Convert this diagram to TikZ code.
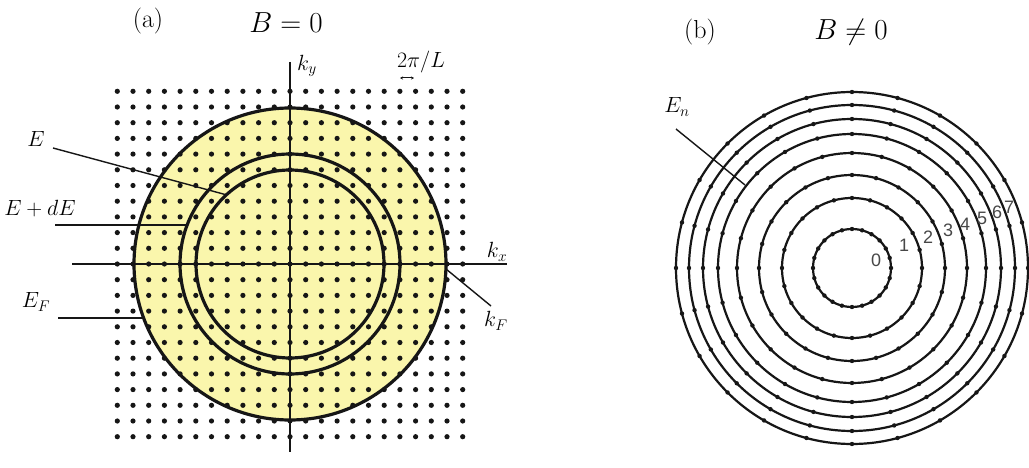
\RequirePackage{fix-cm}
\documentclass[tikz,border=0pt]{standalone}
\usepackage{fontspec}
\newfontfamily\digitfont{Liberation Sans}
\usetikzlibrary{arrows.meta}
\definecolor{fermi}{RGB}{250,246,172}
\definecolor{ink}{RGB}{22,22,22}
\tikzset{
  lbl/.style={font=\fontsize{22}{26}\selectfont, inner sep=0pt},
  klbl/.style={font=\fontsize{22}{26}\selectfont, inner sep=0pt},
  ttl/.style={font=\fontsize{29}{33}\selectfont, inner sep=0pt},
  tag/.style={font=\fontsize{26}{30}\selectfont, inner sep=0pt},
  lvl/.style={font=\digitfont\fontsize{18}{20}\selectfont, text=black!72, inner sep=0pt},
  leader/.style={line width=1.4pt, draw=ink},
  axisline/.style={line width=1.5pt, draw=ink},
  shell/.style={line width=3.2pt, draw=ink},
  ring/.style={line width=2.2pt, draw=ink},
  latdot/.style={fill=ink, draw=none},
}
\begin{document}
\begin{tikzpicture}[x=1pt,y=-1pt]
\useasboundingbox (0,0) rectangle (1029,468);
\fill[white] (0,0) rectangle (1029,468);

% ---------------- panel (a) ----------------
\coordinate (A) at (290,264);
\fill[fermi] (A) circle (156);
\foreach \i in {-11,...,11}
  \foreach \j in {-11,...,11}
    \fill[latdot] ({290+\i*15.7},{264+\j*15.7}) circle (2.6);

\coordinate (kxL) at (72,264);
\coordinate (kxR) at (507,264);
\coordinate (kyT) at (290,62);
\coordinate (kyB) at (290,452);
\draw[axisline] (kxL) -- (kxR);
\draw[axisline] (kyT) -- (kyB);

\draw[shell] (A) circle (156);
\draw[shell] (A) circle (110);
\draw[shell] (A) circle (94);

\node[tag] (pa) at (148,21) {(a)};
\node[ttl] (ba) at (286,23) {$B = 0$};
\node[klbl] (ky) at (307,66) {$k_y$};
\node[klbl] (kx) at (497,252) {$k_x$};
\node[klbl] (kf) at (496,321) {$k_F$};
\node[lbl] (len) at (421,62) {$2\pi/L$};
\coordinate (arL) at (400,78);
\coordinate (arR) at (414,78);
\draw[line width=1pt, ink, {Stealth[length=3pt,width=3pt]}-{Stealth[length=3pt,width=3pt]}] (arL) -- (arR);

\node[lbl] (E) at (36,139) {$E$};
\node[lbl] (EdE) at (40,209) {$E+dE$};
\node[lbl] (EF) at (36,302) {$E_F$};

\coordinate (eS) at (53,148);
\coordinate (eT) at (227,195);
\coordinate (edS) at (55,225);
\coordinate (edT) at (186,225);
\coordinate (efS) at (58,318);
\coordinate (efT) at (145,318);
\coordinate (kfS) at (446,269);
\coordinate (kfT) at (491,306);
\draw[leader] (eS) -- (eT);
\draw[leader] (edS) -- (edT);
\draw[leader] (efS) -- (efT);
\draw[leader] (kfS) -- (kfT);

% ---------------- panel (b) ----------------
\coordinate (Bc) at (852,268);
\foreach \r in {39,70,93,115,134,149,163,176} {
  \draw[ring] (Bc) circle (\r);
  \foreach \a in {0,15,...,345}
    \fill[latdot] ([shift={(\a:\r)}]Bc) circle (2.2);
}

\node[tag] (pb) at (700,32) {(b)};
\node[ttl] (bb) at (851,32) {$B \neq 0$};
\node[lbl] (En) at (677,107) {$E_n$};
\coordinate (enS) at (676,129);
\coordinate (enT) at (745,185);
\draw[leader] (enS) -- (enT);

\node[lvl] (l0) at (876,260) {0};
\node[lvl] (l1) at (904,245) {1};
\node[lvl] (l2) at (928,237) {2};
\node[lvl] (l3) at (948,230) {3};
\node[lvl] (l4) at (965,224) {4};
\node[lvl] (l5) at (982,218) {5};
\node[lvl] (l6) at (997,212) {6};
\node[lvl] (l7) at (1009,207) {7};
\end{tikzpicture}
\end{document}
